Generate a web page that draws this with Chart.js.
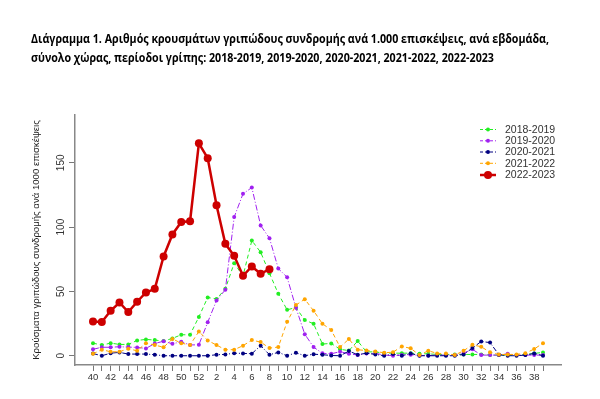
<!DOCTYPE html>
<html>
<head>
<meta charset="utf-8">
<script src="https://cdn.jsdelivr.net/npm/chart.js@4.4.1/dist/chart.umd.min.js"></script>
<style>
html,body{margin:0;padding:0;background:#fff;}
canvas{display:block;}
</style>
</head>
<body>
<canvas id="c" width="600" height="399"></canvas>
<script>
// ---- data ----
const weeks = [40,41,42,43,44,45,46,47,48,49,50,51,52,1,2,3,4,5,6,7,8,9,10,11,12,13,14,15,16,17,18,19,20,21,22,23,24,25,26,27,28,29,30,31,32,33,34,35,36,37,38,39];
const yTicks = [0,50,100,150];
const seriesNames = ["2018-2019","2019-2020","2020-2021","2021-2022","2022-2023"];
const s1819 = [9.8,8.3,9.8,8.8,8.8,11.9,12.7,12.2,11.4,13.5,16.3,16.3,30.2,
  45.3,44.2,52,72,62,89.6,80.5,64.2,48.2,35.7,37.5,27.7,24.9,9.1,
  9.6,5,4,11.4,3,3,2,2,2,2,1.5,1.5,1,1,1,1,1,1,0.5,0.5,0.5,0.5,1,1.8,2.6];
const s1920 = [5,6.6,6.6,7,6.7,6.5,5.7,9.5,11.3,9.3,10.8,8.4,8.5,
  26,43,51.3,107.8,125.9,130.8,101.3,91.4,67.8,61,37.3,16.8,6.7,1.9,
  1.5,3.2,1.5,0.6,1.8,1.8,0.6,0,0.6,0.8,0.2,0.2,0.5,0.5,0.5,2,5,0.5,0.5,0.5,1.5,0.5,0.5,0.5,0.5];
const s2021 = [1.7,0,2,2.6,1.3,1.3,1.3,0.8,0,0,0,0,0,
  0,0.8,1,2,1.8,1.6,7.8,0.8,2.6,0,2.3,0,1.2,0.8,
  0.2,0,3.6,0.8,2,1,0,1.3,0,1.8,0,0,0,0,0,1,6,11.1,10.2,0.8,0,0,0.5,1.8,0];
const s2122 = [1.5,4.7,3.1,3.1,5.5,3.8,9.8,8.3,6.6,13.1,9.8,8.3,18.9,
  11.9,8.3,4.7,4.7,7.8,12.2,10.6,6,6.7,26.4,39.4,44,35,24.9,
  20,6.7,13,4.7,4,3.3,2.3,2.8,7.2,5.8,0.5,3.9,1.8,1.8,0.5,3.9,8.5,7,2.7,1,1,1,2,5.2,9.8];
const s2223 = [26.7,26.2,35,41.4,34,42,49.2,52,77.2,94.3,104,104.6,165.2,
  153.6,117,87,77.7,62.2,69.4,63.7,67.3];

const titleLines = ["Διάγραμμα 1. Αριθμός κρουσμάτων γριπώδους συνδρομής ανά 1.000 επισκέψεις, ανά εβδομάδα,",
  "σύνολο χώρας, περίοδοι γρίπης: 2018-2019, 2019-2020, 2020-2021, 2021-2022, 2022-2023"];
const yTitle = "Κρούσματα γριπώδους συνδρομής ανά 1000 επισκέψεις";

// ---- styles ----
const styles = [
  {color:'#22ee22', dash:[4,3], width:1, r:2, order:5},
  {color:'#a020f0', dash:[6,2,1,2], width:1, r:2, order:4},
  {color:'#000080', dash:[5,2,1,2], width:1, r:2, order:3},
  {color:'#ffa500', dash:[4,3], width:1, r:2, order:2},
  {color:'#cd0000', dash:[], width:2.5, r:4, order:1}
];
const allSeries = [s1819,s1920,s2021,s2122,s2223];

const datasets = allSeries.map((vals,k)=>({
  label: seriesNames[k],
  data: vals.map((v,i)=>({x:i,y:v})),
  borderColor: styles[k].color,
  backgroundColor: styles[k].color,
  borderDash: styles[k].dash,
  borderWidth: styles[k].width,
  pointRadius: styles[k].r,
  pointHoverRadius: styles[k].r,
  pointBorderWidth: 0,
  pointBackgroundColor: styles[k].color,
  tension: 0,
  fill: false,
  order: styles[k].order
}));

const textPlugin = {
  id:'texts',
  afterDraw(chart){
    const ctx = chart.ctx;
    ctx.save();
    // title
    ctx.fillStyle = '#000';
    ctx.textAlign = 'left';
    ctx.textBaseline = 'alphabetic';
    ctx.font = 'bold 13px "Open Sans"';
    const w1 = ctx.measureText(titleLines[0]).width;
    const sx = 518 / w1;
    [43,62].forEach((by,i)=>{
      ctx.save();
      ctx.translate(31, by);
      ctx.scale(sx,1);
      ctx.fillText(titleLines[i], 0, 0);
      ctx.restore();
    });
    // y axis title
    ctx.fillStyle = '#222';
    ctx.font = '9.6px "Liberation Sans"';
    ctx.save();
    const ya = chart.scales.y;
    const cy = (chart.chartArea.top + chart.chartArea.bottom)/2;
    ctx.translate(36, cy);
    ctx.rotate(-Math.PI/2);
    ctx.textAlign = 'center';
    ctx.textBaseline = 'middle';
    ctx.fillText(yTitle, 0, 0);
    ctx.restore();
    // y tick labels
    ctx.fillStyle = '#333';
    ctx.font = '10px "Liberation Sans"';
    yTicks.forEach(v=>{
      const py = ya.getPixelForValue(v);
      ctx.save();
      ctx.translate(61, py);
      ctx.rotate(-Math.PI/2);
      ctx.textAlign = 'center';
      ctx.textBaseline = 'middle';
      ctx.fillText(String(v), 0, 0);
      ctx.restore();
    });
    // legend
    const rows = [129.5,140.8,152,163.3,175];
    ctx.font = '10.5px "Liberation Sans"';
    ctx.textAlign = 'left';
    ctx.textBaseline = 'middle';
    seriesNames.forEach((n,k)=>{
      const st = styles[k];
      const y = rows[k];
      ctx.strokeStyle = st.color;
      ctx.lineWidth = st.width;
      ctx.setLineDash(st.dash.length ? [3,2] : []);
      ctx.beginPath(); ctx.moveTo(480,y); ctx.lineTo(496,y); ctx.stroke();
      ctx.setLineDash([]);
      ctx.fillStyle = st.color;
      ctx.beginPath(); ctx.arc(488,y,st.r,0,Math.PI*2); ctx.fill();
      ctx.fillStyle = '#333';
      ctx.fillText(n, 505, y+0.5);
    });
    ctx.restore();
  }
};

new Chart(document.getElementById('c'), {
  type:'line',
  data:{datasets},
  options:{
    responsive:false,
    animation:false,
    devicePixelRatio:1,
    layout:{padding:{top:115,right:39,left:0,bottom:0}},
    plugins:{legend:{display:false}, tooltip:{enabled:false}, title:{display:false}},
    scales:{
      x:{
        type:'linear', min:-2.04, max:53.04,
        afterBuildTicks: s => { s.ticks = weeks.map((w,i)=>({value:i})); },
        afterFit: s => { s.height = 34; },
        ticks:{autoSkip:false, maxRotation:0, minRotation:0, padding:1,
          callback:(v)=> (weeks[v]%2===0 ? String(weeks[v]) : ''),
          font:{size:9.5, family:'"Liberation Sans"'}, color:'#333'},
        grid:{drawOnChartArea:false, drawTicks:true, tickLength:6, color:'#777', lineWidth:1},
        border:{display:true, color:'#888', width:1.5}
      },
      y:{
        type:'linear', min:-7.2, max:187.2,
        afterBuildTicks: s => { s.ticks = yTicks.map(v=>({value:v})); },
        afterFit: s => { s.width = 75; },
        ticks:{display:false},
        grid:{drawOnChartArea:false, drawTicks:true, tickLength:6, color:'#777', lineWidth:1},
        border:{display:true, color:'#888', width:1.5}
      }
    }
  },
  plugins:[textPlugin]
});
</script>
</body>
</html>
